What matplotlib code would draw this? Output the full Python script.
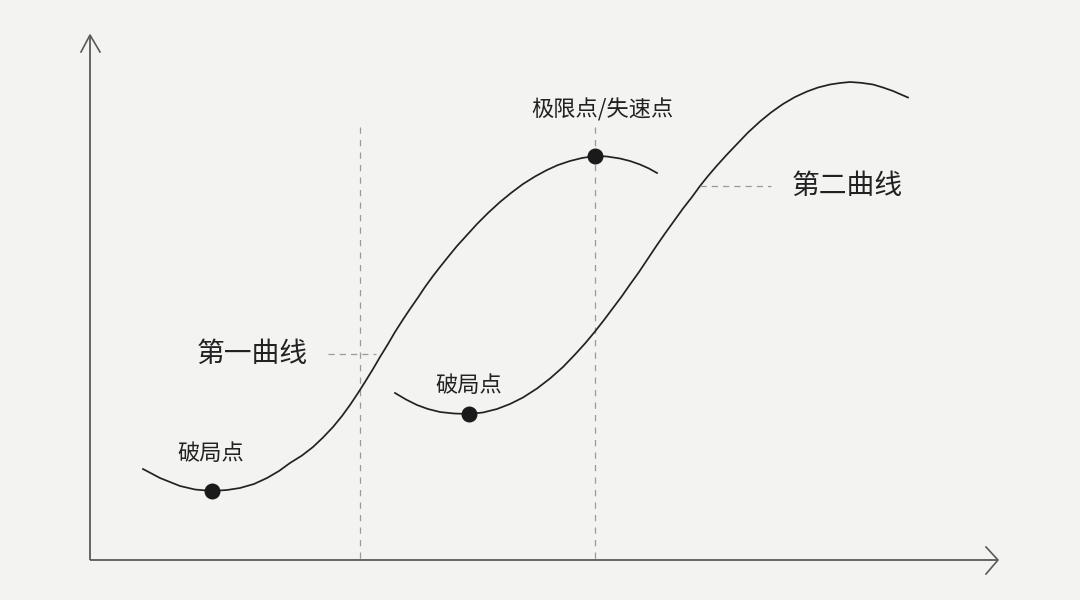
import matplotlib.pyplot as plt

plt.rcParams['font.family'] = ['Noto Sans CJK SC', 'DejaVu Sans']

# points, in pixel coords (y down)
curve1_x = [143, 160, 180, 195, 212, 227, 240, 254, 267, 279, 290, 302, 313, 323,
            333, 342, 350, 358, 365, 373, 380, 388, 395, 403, 410, 418, 425, 433,
            440, 448, 457, 467, 477, 488, 500, 511, 523, 535, 547, 558, 570, 582,
            595, 607, 620, 630, 640, 649, 657]
curve1_y = [469, 478, 486, 489.5, 491, 490, 488, 484, 478, 471, 463, 455.5, 447, 437.5,
            427, 416, 405, 393, 382, 369, 357, 344, 332, 319.5, 309, 297.5, 287, 276,
            267, 257, 246, 235, 224, 213, 202, 193, 184, 176.5, 170, 165, 161, 158,
            156, 156.5, 158.5, 161, 164.5, 168.5, 173]

curve2_x = [395, 406, 417, 428, 440, 454, 469, 483, 497, 510, 523, 537, 550, 563,
            575, 585, 595, 604, 613, 622, 630, 639, 647, 656, 665, 674, 683, 692,
            700, 708, 717, 727, 737, 748, 760, 771, 783, 795, 807, 818, 830, 840,
            850, 861, 873, 883, 893, 901, 908]
curve2_y = [393, 399.5, 405, 409, 412, 413.5, 414, 412.5, 409, 404, 397.5, 388.5, 378.5, 367,
            354.5, 343.5, 331.5, 320, 308, 296, 284.5, 272, 260, 246.5, 233.5, 221, 208.5, 197,
            186, 176, 165.5, 154.5, 144, 132.5, 121.5, 112.5, 104, 97, 91.5, 87.5, 84.5, 83,
            82, 82.8, 84.5, 87.5, 91, 94.5, 97.5]

dot_x = [212, 469, 595]
dot_y = [491, 414, 156]

labels = ['破局点', '破局点', '极限点/失速点']
label_x = [211, 469, 602]
label_y = [453, 386, 110]

curve_names = ['第一曲线', '第二曲线']
name_x = [252, 847]
name_y = [354, 186]
leader_x0 = [328, 700]
leader_x1 = [376, 771]

guide_x = [360, 595]

bg = '#f3f3f1'
ink = '#222222'
axis_col = '#5a5a5a'
dash_col = '#9a9a9a'

fig = plt.figure(figsize=(10.8, 6), dpi=100, facecolor=bg)
ax = fig.add_axes([0, 0, 1, 1])
ax.set_facecolor(bg)
ax.set_xlim(0, 1080)
ax.set_ylim(600, 0)
ax.axis('off')

# axes with open arrow heads
ax.plot([90, 90], [560, 35], color=axis_col, lw=1.3, solid_capstyle='butt')
ax.plot([81, 90, 100], [52, 35, 52], color=axis_col, lw=1.2)
ax.plot([90, 998], [560, 560], color=axis_col, lw=1.3, solid_capstyle='butt')
ax.plot([986, 998, 986], [547, 560, 574], color=axis_col, lw=1.2)

# vertical guides
for gx in guide_x:
    ax.plot([gx, gx], [127, 560], color=dash_col, lw=0.9, dashes=(5, 5))

# curves
ax.plot(curve1_x, curve1_y, color=ink, lw=1.25, solid_joinstyle='round')
ax.plot(curve2_x, curve2_y, color=ink, lw=1.25, solid_joinstyle='round')

# leader lines + curve names
for x0, x1, ny, nx, name in zip(leader_x0, leader_x1, name_y, name_x, curve_names):
    ax.plot([x0, x1], [ny, ny], color=dash_col, lw=0.9, dashes=(5, 4))
    ax.text(nx, ny, name, fontsize=20, color=ink, ha='center', va='center')

# key points
ax.scatter(dot_x, dot_y, s=110, color='#1a1a1a', zorder=5)
for lx, ly, lab in zip(label_x, label_y, labels):
    ax.text(lx, ly, lab, fontsize=16, color=ink, ha='center', va='center')

fig.savefig('out.png', dpi=100, facecolor=bg)
